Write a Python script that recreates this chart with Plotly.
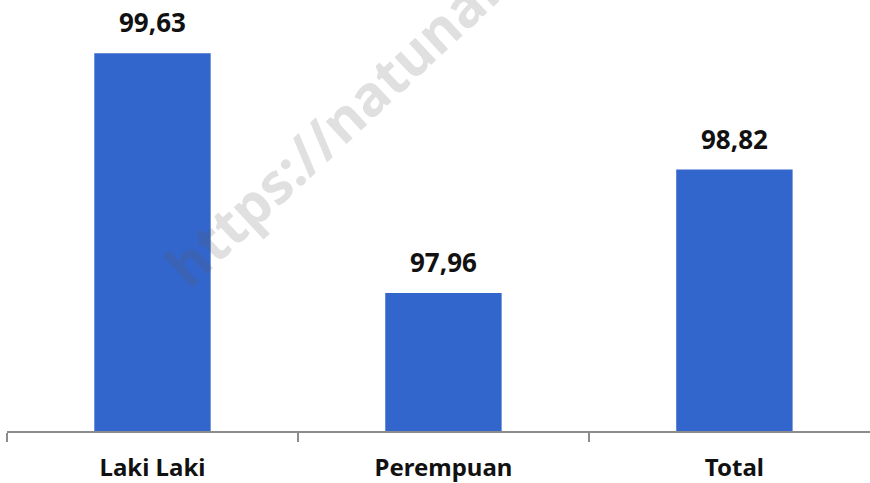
import plotly.graph_objects as go

categories = ["Laki Laki", "Perempuan", "Total"]
values = [99.63, 97.96, 98.82]
labels = [f"{v:.2f}".replace(".", ",") for v in values]

BAR = "#3366CC"
FONT = "Noto Sans"

fig = go.Figure()
fig.add_trace(go.Bar(x=categories, y=values, marker=dict(color=BAR, line=dict(width=0)),
                     width=0.4, showlegend=False, hoverinfo="skip"))

for c, v, t in zip(categories, values, labels):
    fig.add_annotation(x=c, y=v, text=f"<b>{t}</b>", showarrow=False, xref="x", yref="y",
                       yanchor="bottom", yshift=11,
                       font=dict(family=FONT, size=26, color="#111111"))

fig.add_annotation(x=0.526, y=0.984, xref="paper", yref="paper",
                   xanchor="center", yanchor="middle",
                   text="<b>https://natunakab.bps.go.id</b>", showarrow=False,
                   textangle=-43, font=dict(family=FONT, size=56, color="rgba(90,90,90,0.19)"))

fig.update_layout(
    width=870, height=483,
    margin=dict(l=7, r=0, t=0, b=50),
    paper_bgcolor="white", plot_bgcolor="white",
    bargap=0.6,
    xaxis=dict(type="category", range=[-0.5, 2.466], tickson="boundaries",
               ticks="outside", ticklen=9, tickwidth=2, tickcolor="#8c8c8c",
               showline=True, linecolor="#8c8c8c", linewidth=2, showgrid=False,
               tickfont=dict(family=FONT, size=24, color="#111111"),
               ticklabelstandoff=14),
    yaxis=dict(range=[97, 100], visible=False, showgrid=False, zeroline=False),
)
fig.update_xaxes(ticktext=[f"<b>{c}</b>" for c in categories], tickvals=categories)

fig.write_html("out.html")
